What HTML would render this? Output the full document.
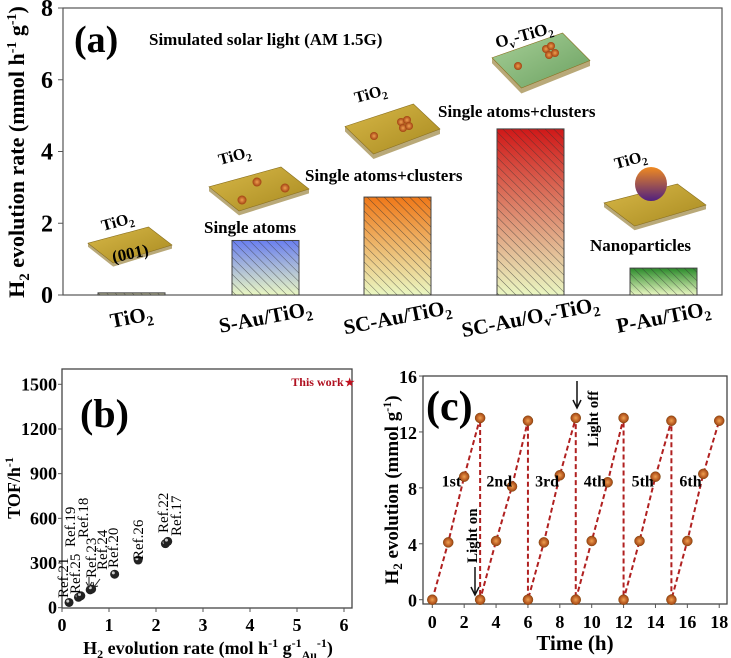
<!DOCTYPE html>
<html><head><meta charset="utf-8"><style>
html,body{margin:0;padding:0;background:#fff;}
svg{display:block;font-family:"Liberation Serif",serif;font-weight:bold;}
</style></head><body>
<svg id="fig" width="731" height="658" viewBox="0 0 731 658">
<defs>
<pattern id="hatch" width="6" height="6" patternUnits="userSpaceOnUse" patternTransform="rotate(-45)">
<line x1="0" y1="0" x2="0" y2="6" stroke="#333" stroke-width="1"/></pattern>
<linearGradient id="g0" x1="0" y1="0" x2="0" y2="1"><stop offset="0" stop-color="#9a9a80"/><stop offset="1" stop-color="#c8c8a8"/></linearGradient>
<linearGradient id="g1" x1="0" y1="0" x2="0" y2="1"><stop offset="0" stop-color="#6a7ff0"/><stop offset="1" stop-color="#eaf7c2"/></linearGradient>
<linearGradient id="g2" x1="0" y1="0" x2="0" y2="1"><stop offset="0" stop-color="#f07818"/><stop offset="1" stop-color="#eaf7c2"/></linearGradient>
<linearGradient id="g3" x1="0" y1="0" x2="0" y2="1"><stop offset="0" stop-color="#d01818"/><stop offset="1" stop-color="#eaf7c2"/></linearGradient>
<linearGradient id="g4" x1="0" y1="0" x2="0" y2="1"><stop offset="0" stop-color="#2a8a2a"/><stop offset="1" stop-color="#eaf7c2"/></linearGradient>
<linearGradient id="gold" x1="0" y1="0" x2="1" y2="1"><stop offset="0" stop-color="#d8b848"/><stop offset="1" stop-color="#a88a20"/></linearGradient>
<linearGradient id="greenslab" x1="0" y1="0" x2="1" y2="1"><stop offset="0" stop-color="#a8d098"/><stop offset="1" stop-color="#6aa060"/></linearGradient>
<radialGradient id="atom"><stop offset="0" stop-color="#f0a050"/><stop offset="1" stop-color="#a04010"/></radialGradient>
<linearGradient id="np" x1="0" y1="0" x2="0" y2="1"><stop offset="0" stop-color="#f08a20"/><stop offset="1" stop-color="#502080"/></linearGradient>
</defs>
<g id="pa"></g>
<g id="pb"></g>
<g id="pc"></g>
</svg>
<script>
// ---- Panel (a) data ----
const catsA = ["TiO2","S-Au/TiO2","SC-Au/TiO2","SC-Au/Ov-TiO2","P-Au/TiO2"];
const valsA = [0.06, 1.52, 2.73, 4.63, 0.75];
const ticksA = [0,2,4,6,8];
// ---- Panel (b) data ----
const refX = [0.15, 0.35, 0.40, 0.60, 0.63, 1.12, 1.62, 2.20, 2.25];
const refY = [35, 70, 80, 120, 125, 225, 320, 430, 445];
const thisWorkX = [6.12];
const thisWorkY = [1515];
const ticksBX = [0,1,2,3,4,5,6];
const ticksBY = [0,300,600,900,1200,1500];
// ---- Panel (c) data ----
const timeC = [0,1,2,3, 3,4,5,6, 6,7,8,9, 9,10,11,12, 12,13,14,15, 15,16,17,18];
const h2C = [0,4.1,8.8,13.0, 0,4.2,8.1,12.8, 0,4.1,8.9,13.0, 0,4.2,8.4,13.0, 0,4.2,8.8,12.8, 0,4.2,9.0,12.8];
const ticksCX = [0,2,4,6,8,10,12,14,16,18];
const ticksCY = [0,4,8,12,16];
const cycleLabels = ["1st","2nd","3rd","4th","5th","6th"];

const NS="http://www.w3.org/2000/svg";
function mk(parent,tag,attrs,text){const e=document.createElementNS(NS,tag);for(const k in attrs)e.setAttribute(k,attrs[k]);if(text!==undefined)e.textContent=text;parent.appendChild(e);return e;}

// ===== Panel A =====
const pa=document.getElementById('pa');
const ax={l:63,r:722,t:8,b:295};
const yA=v=>ax.b-(v/8)*(ax.b-ax.t);
const barX=[98,232,364,497,630], barW=67;
let fr=mk(pa,'rect',{x:ax.l,y:ax.t,width:ax.r-ax.l,height:ax.b-ax.t,fill:'none',stroke:'#555','stroke-width':1.2});

ticksA.forEach(t=>{const y=yA(t);
 mk(pa,'line',{x1:ax.l-5,y1:y,x2:ax.l,y2:y,stroke:'#555'});
 let tx=mk(pa,'text',{x:ax.l-10,y:y+8,'font-size':24,'text-anchor':'end'},String(t));
 });
valsA.forEach((v,i)=>{
 const y=yA(v),h=ax.b-y;
 let b=mk(pa,'rect',{x:barX[i],y:y,width:barW,height:h,fill:'url(#g'+i+')',stroke:'#444','stroke-width':1});
 
 
 mk(pa,'rect',{x:barX[i],y:y,width:barW,height:h,fill:'url(#hatch)',opacity:0.7});
});
const catHtml=["TiO","S-Au/TiO","SC-Au/TiO","","P-Au/TiO"];
catsA.forEach((c,i)=>{
 const cx=barX[i]+barW/2;
 let t=mk(pa,'text',{x:cx,y:324,'font-size':21,'text-anchor':'middle',transform:'rotate(-11 '+cx+' 318)'});
 
 if(i===3){t.innerHTML='SC-Au/O<tspan font-size="14" dy="5">v</tspan><tspan dy="-5">-TiO</tspan><tspan font-size="14" dy="5">2</tspan>';}
 else{t.innerHTML=catHtml[i]+'<tspan font-size="14" dy="5">2</tspan>';}
});
let yt=mk(pa,'text',{x:0,y:0,'font-size':22,'text-anchor':'middle',transform:'translate(24 152) rotate(-90)'});
yt.innerHTML='H<tspan font-size="15" dy="5">2</tspan><tspan dy="-5"> evolution rate (mmol h</tspan><tspan font-size="14" dy="-8">-1</tspan><tspan dy="8"> g</tspan><tspan font-size="14" dy="-8">-1</tspan><tspan dy="8">)</tspan>';

let la=mk(pa,'text',{x:74,y:52,'font-size':38},'(a)');
let st=mk(pa,'text',{x:149,y:45,'font-size':17},'Simulated solar light (AM 1.5G)');
const ann=[[204,233,'Single atoms'],[305,181,'Single atoms+clusters'],[438,117,'Single atoms+clusters'],[590,251,'Nanoparticles']];
ann.forEach(a=>{let t=mk(pa,'text',{x:a[0],y:a[1],'font-size':17},a[2]);});
function slab(x,y,w,h,fill){
 const g=mk(pa,'g',{});
 mk(g,'polygon',{points:`${x},${y+h*0.45} ${x+w*0.72},${y} ${x+w},${y+h*0.5} ${x+w*0.3},${y+h}`,fill:fill,stroke:'#8a7020','stroke-width':0.6});
 mk(g,'polygon',{points:`${x+w*0.3},${y+h} ${x+w},${y+h*0.5} ${x+w},${y+h*0.6} ${x+w*0.3},${y+h*1.1} ${x},${y+h*0.55} ${x},${y+h*0.45}`,fill:'#8a7020',opacity:0.6});
 return g;}
let s0=slab(88,227,84,36,'url(#gold)');
mk(pa,'text',{x:130,y:259,'font-size':17,'text-anchor':'middle',transform:'rotate(-12 130 252)'},'(001)');
let s1=slab(209,167,100,44,'url(#gold)');
[[242,200],[257,182],[285,188]].forEach(p=>mk(pa,'circle',{cx:p[0],cy:p[1],r:4.5,fill:'url(#atom)'}));
let s2=slab(345,104,95,50,'url(#gold)');
[[374,136],[401,122],[407,120],[403,128],[409,126]].forEach(p=>mk(pa,'circle',{cx:p[0],cy:p[1],r:4,fill:'url(#atom)'}));
let s3=slab(492,33,98,55,'url(#greenslab)');
[[518,66],[546,49],[551,46],[549,55],[555,53]].forEach(p=>mk(pa,'circle',{cx:p[0],cy:p[1],r:4,fill:'url(#atom)'}));
let s4=slab(604,184,102,42,'url(#gold)');
mk(pa,'ellipse',{cx:651,cy:184,rx:16,ry:17,fill:'url(#np)'});
[[103,231,'TiO2'],[220,165,'TiO2'],[356,103,'TiO2'],[616,169,'TiO2']].forEach(a=>{
 let t=mk(pa,'text',{x:a[0],y:a[1],'font-size':16,transform:`rotate(-15 ${a[0]} ${a[1]})`});
 t.innerHTML='TiO<tspan font-size="11" dy="4">2</tspan>';
 });
let ov=mk(pa,'text',{x:497,y:48,'font-size':17,transform:'rotate(-15 497 48)'});
ov.innerHTML='O<tspan font-size="11" dy="4">v</tspan><tspan dy="-4">-TiO</tspan><tspan font-size="11" dy="4">2</tspan>';


// ===== Panel B =====
const pb=document.getElementById('pb');
const bx={l:62,r:352,t:369,b:608};
const xB=v=>62+v*47;
const yB=v=>607.7-v*(223.4/1500);
let fb=mk(pb,'rect',{x:bx.l,y:bx.t,width:bx.r-bx.l,height:bx.b-bx.t,fill:'none',stroke:'#444','stroke-width':1.3});

ticksBX.forEach(t=>{const x=xB(t);mk(pb,'line',{x1:x,y1:bx.b,x2:x,y2:bx.b+4,stroke:'#555'});
 let tx=mk(pb,'text',{x:x,y:631,'font-size':18,'text-anchor':'middle'},String(t));});
ticksBY.forEach(t=>{const y=yB(t);mk(pb,'line',{x1:bx.l-4,y1:y,x2:bx.l,y2:y,stroke:'#555'});
 let tx=mk(pb,'text',{x:bx.l-5,y:y+6,'font-size':18,'text-anchor':'end'},String(t));});
refX.forEach((v,i)=>{let c=mk(pb,'circle',{cx:xB(v),cy:yB(refY[i]),r:4.5,fill:'#222'});
 
 mk(pb,'circle',{cx:xB(v)-1.3,cy:yB(refY[i])-1.3,r:1.5,fill:'#ccc'});});
const lblB=[[68,598,'Ref.21'],[80,594,'Ref.25'],[75,547,'Ref.19'],[88,538,'Ref.18'],[96,578,'Ref.23'],[107,570,'Ref.24'],[118,568,'Ref.20'],[143,560,'Ref.26'],[168,533,'Ref.22'],[181,536,'Ref.17']];
lblB.forEach(a=>{let t=mk(pb,'text',{x:a[0],y:a[1],'font-size':15,'font-weight':'normal',transform:`rotate(-90 ${a[0]} ${a[1]})`},a[2]);
 });
mk(pb,'path',{d:'M89,577 L89,585 M86,582 L89,587 L92,582',stroke:'#222',fill:'none'});
mk(pb,'path',{d:'M100,579 L94,587 M93,582 L94,587 L98,586',stroke:'#222',fill:'none'});
let star=mk(pb,'text',{x:xB(thisWorkX[0]),y:yB(thisWorkY[0])+4,'font-size':11,fill:'#c01020','text-anchor':'middle'},'★');

let tw=mk(pb,'text',{x:xB(thisWorkX[0])-6,y:yB(thisWorkY[0])+4,'font-size':12,fill:'#b01020','text-anchor':'end'},'This work');

let lb=mk(pb,'text',{x:80,y:427,'font-size':40},'(b)');
let ytb=mk(pb,'text',{x:0,y:0,'font-size':18,'text-anchor':'middle',transform:'translate(20 488) rotate(-90)'});
ytb.innerHTML='TOF/h<tspan font-size="12" dy="-7">-1</tspan>';
let xtb=mk(pb,'text',{x:208,y:654,'font-size':18,'text-anchor':'middle'});
xtb.innerHTML='H<tspan font-size="12" dy="4">2</tspan><tspan dy="-4"> evolution rate (mol h</tspan><tspan font-size="12" dy="-7">-1</tspan><tspan dy="7"> g</tspan><tspan font-size="12" dy="-7">-1</tspan><tspan font-size="12" dy="12">Au</tspan><tspan font-size="12" dy="-12">-1</tspan><tspan dy="7">)</tspan>';


// ===== Panel C =====
const pc=document.getElementById('pc');
const cx0={l:423,r:727,t:376,b:604};
const xC=v=>432.3+v*15.94;
const yC=v=>599.7-v*13.98;
let fc=mk(pc,'rect',{x:cx0.l,y:cx0.t,width:cx0.r-cx0.l,height:cx0.b-cx0.t,fill:'none',stroke:'#444','stroke-width':1.3});

ticksCX.forEach(t=>{const x=xC(t);mk(pc,'line',{x1:x,y1:cx0.b,x2:x,y2:cx0.b+4,stroke:'#555'});
 let tx=mk(pc,'text',{x:x,y:628,'font-size':18,'text-anchor':'middle'},String(t));});
ticksCY.forEach(t=>{const y=yC(t);mk(pc,'line',{x1:cx0.l-4,y1:y,x2:cx0.l,y2:y,stroke:'#555'});
 let tx=mk(pc,'text',{x:cx0.l-6,y:y+7,'font-size':18,'text-anchor':'end'},String(t));});
let d='';timeC.forEach((t,i)=>{d+=(i?'L':'M')+xC(t)+','+yC(h2C[i]);});
let ln=mk(pc,'path',{d:d,fill:'none',stroke:'#b02020','stroke-width':2,'stroke-dasharray':'5,3'});

timeC.forEach((t,i)=>{let c=mk(pc,'circle',{cx:xC(t),cy:yC(h2C[i]),r:5,fill:'url(#atom)',stroke:'#7a4a10','stroke-width':0.5});
 });
cycleLabels.forEach((s,i)=>{let t=mk(pc,'text',{x:xC(i*3+1.2),y:yC(8.1),'font-size':16,'text-anchor':'middle'},s);
 });
let lc=mk(pc,'text',{x:426,y:420,'font-size':42},'(c)');
let lon=mk(pc,'text',{x:477,y:563,'font-size':15,transform:'rotate(-90 477 563)'},'Light on');
mk(pc,'path',{d:'M475,567 L475,594 M471,587 L475,595 L479,587',stroke:'#111','stroke-width':1.5,fill:'none'});
let lof=mk(pc,'text',{x:598,y:447,'font-size':15,transform:'rotate(-90 598 447)'},'Light off');
mk(pc,'path',{d:'M577,381 L577,407 M573,400 L577,408 L581,400',stroke:'#111','stroke-width':1.5,fill:'none'});
let ytc=mk(pc,'text',{x:0,y:0,'font-size':19,'text-anchor':'middle',transform:'translate(398 490) rotate(-90)'});
ytc.innerHTML='H<tspan font-size="13" dy="4">2</tspan><tspan dy="-4"> evolution (mmol g</tspan><tspan font-size="12" dy="-7">-1</tspan><tspan dy="7">)</tspan>';

let xtc=mk(pc,'text',{x:575,y:650,'font-size':21,'text-anchor':'middle'},'Time (h)');
</script>
</body></html>
